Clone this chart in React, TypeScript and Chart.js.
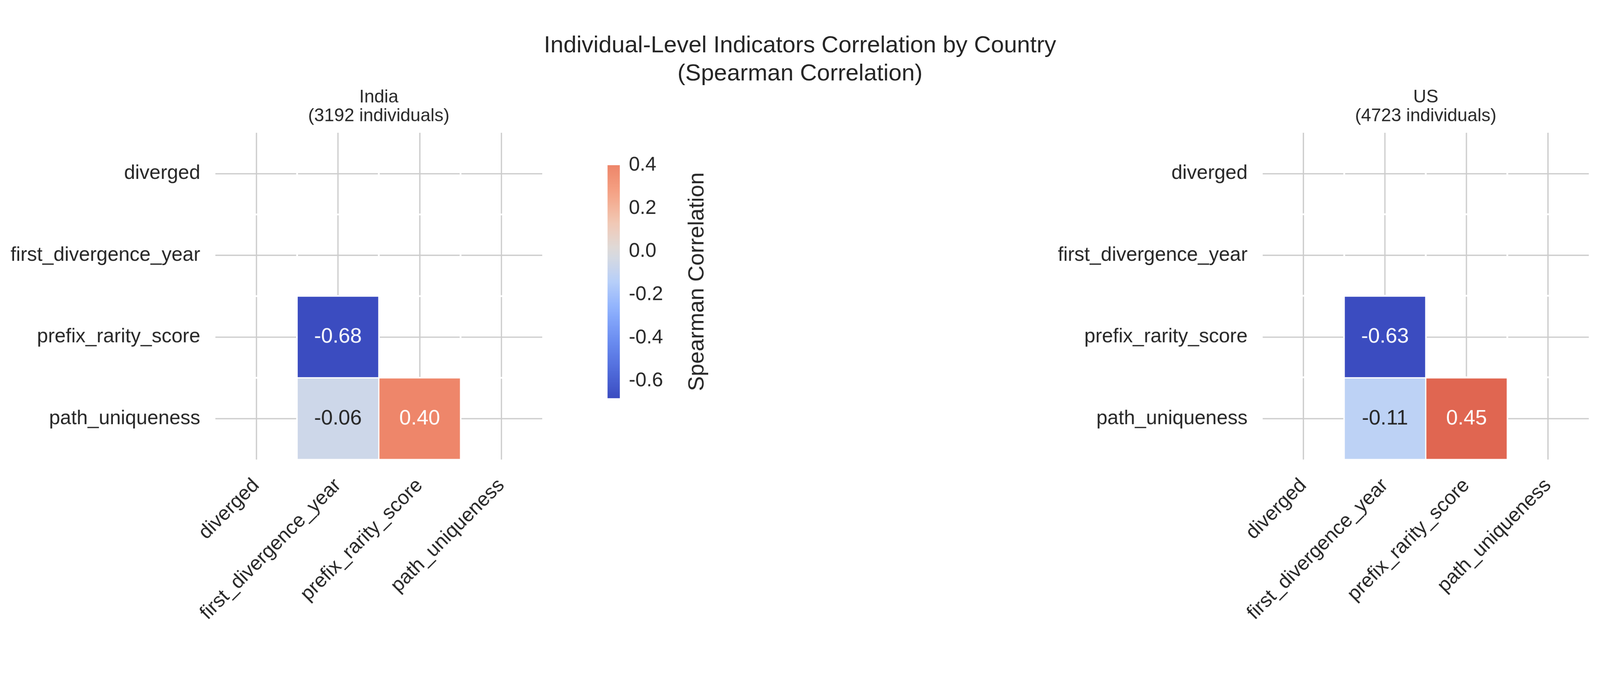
import { useEffect, useRef, useState } from "react";
import Chart from "chart.js/auto";

const indicators = ["diverged", "first_divergence_year", "prefix_rarity_score", "path_uniqueness"];
// lower triangle, rows top to bottom, null = masked
const indiaCorr: (number | null)[][] = [
  [null, null, null, null],
  [null, null, null, null],
  [null, -0.68, null, null],
  [null, -0.06, 0.4, null],
];
const usCorr: (number | null)[][] = [
  [null, null, null, null],
  [null, null, null, null],
  [null, -0.63, null, null],
  [null, -0.11, 0.45, null],
];
const cbarTicks = [-0.6, -0.4, -0.2, 0.0, 0.2, 0.4];

const FONT = "'Liberation Sans', Arial, sans-serif";
const TXT = "#262626";
const TICK = 55;

// approximate coolwarm
const stops: [number, number[]][] = [
  [0, [59, 76, 192]], [0.1, [82, 110, 221]], [0.2, [108, 142, 241]], [0.3, [141, 176, 254]],
  [0.4, [184, 208, 249]], [0.5, [221, 220, 220]], [0.6, [242, 200, 180]], [0.7, [245, 163, 133]],
  [0.8, [238, 132, 104]], [0.9, [213, 80, 64]], [1, [180, 4, 38]],
];
const coolwarm = (t: number) => {
  t = Math.max(0, Math.min(1, t));
  for (let i = 1; i < stops.length; i++) {
    if (t <= stops[i][0]) {
      const [t0, c0] = stops[i - 1];
      const [t1, c1] = stops[i];
      const f = (t - t0) / (t1 - t0);
      const c = c0.map((v, k) => Math.round(v + (c1[k] - v) * f));
      return `rgb(${c[0]},${c[1]},${c[2]})`;
    }
  }
  return "rgb(180,4,38)";
};
const flat = (m: (number | null)[][]) => m.flat().filter((v): v is number => v !== null);
const rangeOf = (m: (number | null)[][]) => Math.max(...flat(m).map(Math.abs));
const tOf = (v: number, R: number) => 0.5 + v / (2 * R);

function heatmapChart(canvas: HTMLCanvasElement, corr: (number | null)[][], title: string, yWidth: number, padRight: number) {
  const R = rangeOf(corr);
  const datasets = corr.map((row, r) => ({
    label: indicators[r],
    data: row.map((v) => (v === null ? null : [r, r + 1])),
    backgroundColor: row.map((v) => (v === null ? "transparent" : coolwarm(tOf(v, R)))),
    borderColor: "#ffffff",
    borderWidth: 2,
    borderSkipped: false,
    barPercentage: 1,
    categoryPercentage: 1,
    grouped: false,
  }));
  const plugin = {
    id: "hm",
    beforeDatasetsDraw(chart: any) {
      const { ctx, chartArea: a } = chart;
      ctx.save();
      ctx.strokeStyle = "#ffffff";
      ctx.lineWidth = 5;
      const w = (a.right - a.left) / 4;
      for (let i = 1; i < 4; i++) {
        ctx.beginPath();
        ctx.moveTo(a.left + i * w, a.top);
        ctx.lineTo(a.left + i * w, a.bottom);
        ctx.moveTo(a.left, a.top + i * w);
        ctx.lineTo(a.right, a.top + i * w);
        ctx.stroke();
      }
      ctx.restore();
    },
    afterDatasetsDraw(chart: any) {
      const { ctx } = chart;
      ctx.save();
      ctx.font = `58px ${FONT}`;
      ctx.textAlign = "center";
      ctx.textBaseline = "middle";
      corr.forEach((row, r) => {
        const meta = chart.getDatasetMeta(r);
        row.forEach((v, c) => {
          if (v === null) return;
          const el = meta.data[c];
          const y = (el.y + el.base) / 2;
          ctx.fillStyle = Math.abs(tOf(v, R) - 0.5) > 0.2 ? "#ffffff" : TXT;
          ctx.fillText(v.toFixed(2), el.x, y);
        });
      });
      ctx.restore();
    },
    afterDraw(chart: any) {
      const { ctx, chartArea: a } = chart;
      ctx.save();
      ctx.font = `50px ${FONT}`;
      ctx.fillStyle = TXT;
      ctx.textAlign = "center";
      ctx.textBaseline = "alphabetic";
      const cx = (a.left + a.right) / 2;
      title.split("\n").forEach((line, i) => ctx.fillText(line, cx, a.top - 84 + i * 52));
      ctx.restore();
    },
  };
  return new Chart(canvas, {
    type: "bar",
    data: { labels: indicators, datasets: datasets as any },
    options: {
      animation: false,
      responsive: false,
      maintainAspectRatio: false,
      layout: { padding: { top: 128, right: padRight, bottom: 0, left: 0 } },
      plugins: { legend: { display: false }, tooltip: { enabled: false } },
      scales: {
        x: {
          grid: { offset: false, color: "#cccccc", lineWidth: 3.5, tickLength: 0, drawTicks: false },
          border: { display: false },
          ticks: { font: { size: TICK, family: FONT }, color: TXT, maxRotation: 45, minRotation: 45, padding: 40 },
          afterFit: (s: any) => { s.height = 480; },
        },
        y: {
          min: 0,
          max: 4,
          reverse: true,
          grid: { color: "#cccccc", lineWidth: 3.5, drawTicks: false },
          border: { display: false },
          afterBuildTicks: (s: any) => { s.ticks = [0.5, 1.5, 2.5, 3.5].map((value) => ({ value })); },
          ticks: {
            font: { size: TICK, family: FONT },
            color: TXT,
            padding: 42,
            callback: (v: any) => indicators[Math.floor(Number(v))],
          },
          afterFit: (s: any) => { s.width = yWidth; },
        },
      },
    },
    plugins: [plugin],
  });
}

function colorbarChart(canvas: HTMLCanvasElement, corr: (number | null)[][]) {
  const vals = flat(corr);
  const lo = Math.min(...vals);
  const hi = Math.max(...vals);
  const R = rangeOf(corr);
  const plugin = {
    id: "cbtitle",
    afterDraw(chart: any) {
      const { ctx, chartArea: a } = chart;
      ctx.save();
      ctx.font = `62px ${FONT}`;
      ctx.fillStyle = TXT;
      ctx.textAlign = "center";
      ctx.textBaseline = "middle";
      ctx.translate(a.right + 215, (a.top + a.bottom) / 2);
      ctx.rotate(-Math.PI / 2);
      ctx.fillText("Spearman Correlation", 0, 0);
      ctx.restore();
    },
  };
  return new Chart(canvas, {
    type: "bar",
    data: {
      labels: [""],
      datasets: [{
        data: [[lo, hi]] as any,
        barPercentage: 1,
        categoryPercentage: 1,
        borderWidth: 0,
        backgroundColor: (c: any) => {
          const a = c.chart.chartArea;
          if (!a) return "#ddd";
          const g = c.chart.ctx.createLinearGradient(0, a.bottom, 0, a.top);
          for (let i = 0; i <= 20; i++) {
            const v = lo + ((hi - lo) * i) / 20;
            g.addColorStop(i / 20, coolwarm(tOf(v, R)));
          }
          return g;
        },
      }],
    },
    options: {
      animation: false,
      responsive: false,
      maintainAspectRatio: false,
      layout: { padding: { top: 58, bottom: 96, left: 84, right: 0 } },
      plugins: { legend: { display: false }, tooltip: { enabled: false } },
      scales: {
        x: { display: false },
        y: {
          position: "right",
          min: lo,
          max: hi,
          grid: { display: false, drawOnChartArea: false, drawTicks: true, tickLength: 17, tickColor: TXT, tickWidth: 3 } as any,
          border: { display: false },
          afterBuildTicks: (s: any) => { s.ticks = cbarTicks.map((value) => ({ value })); },
          ticks: { font: { size: TICK, family: FONT }, color: TXT, padding: 8, callback: (v: any) => Number(v).toFixed(1) },
          afterFit: (s: any) => { s.width = 382; },
        },
      },
    },
    plugins: [plugin],
  });
}

export default function App() {
  const indiaRef = useRef<HTMLCanvasElement>(null);
  const usRef = useRef<HTMLCanvasElement>(null);
  const cbRef = useRef<HTMLCanvasElement>(null);
  const [scale] = useState(() => Math.min(1, window.innerWidth / 4435));

  useEffect(() => {
    document.body.style.margin = "0";
    const charts = [
      heatmapChart(indiaRef.current!, indiaCorr, "India\n(3192 individuals)", 597, 57),
      heatmapChart(usRef.current!, usCorr, "US\n(4723 individuals)", 600, 31),
      colorbarChart(cbRef.current!, indiaCorr),
    ];
    return () => charts.forEach((c) => c.destroy());
  }, []);

  return (
    <div style={{ width: 4435 * scale, height: 1754 * scale, overflow: "hidden" }}>
      <div style={{ position: "relative", width: 4435, height: 1754, background: "#fff", fontFamily: FONT, color: TXT, transform: `scale(${scale})`, transformOrigin: "0 0" }}>
        <div style={{ position: "absolute", left: 0, width: 4435, top: 84, textAlign: "center", fontSize: 65, lineHeight: "78px" }}>
          Individual-Level Indicators Correlation by Country
          <br />
          (Spearman Correlation)
        </div>
        <canvas ref={indiaRef} width={1560} height={1514} style={{ position: "absolute", left: 0, top: 240, width: 1560, height: 1514 }} />
        <canvas ref={cbRef} width={500} height={800} style={{ position: "absolute", left: 1600, top: 400, width: 500, height: 800 }} />
        <canvas ref={usRef} width={1535} height={1514} style={{ position: "absolute", left: 2900, top: 240, width: 1535, height: 1514 }} />
      </div>
    </div>
  );
}
